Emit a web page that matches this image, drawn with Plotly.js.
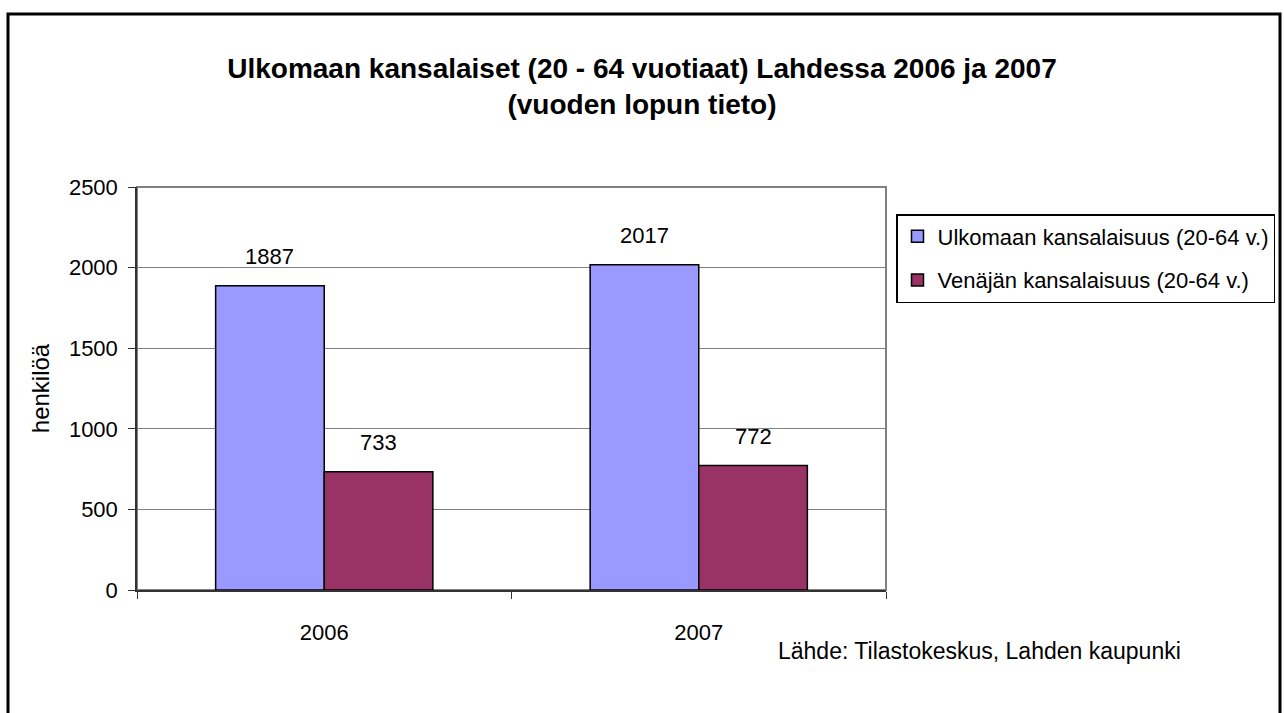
<!DOCTYPE html>
<html>
<head>
<meta charset="utf-8">
<script src="https://cdn.plot.ly/plotly-3.0.1.min.js"></script>
<style>
html,body{margin:0;padding:0;background:#fff;}
#chart{width:1284px;height:713px;}
</style>
</head>
<body>
<div id="chart"></div>
<script>
const years = ["2006", "2007"];
const seriesNames = ["Ulkomaan kansalaisuus (20-64 v.)", "Venäjän kansalaisuus (20-64 v.)"];
const foreignValues = [1887, 2017];
const russianValues = [733, 772];
const colors = ["#9999FF", "#993366"];
const titleText = "<b>Ulkomaan kansalaiset (20 - 64 vuotiaat) Lahdessa 2006 ja 2007<br>(vuoden lopun tieto)</b>";
const yTitle = "henkilöä";
const sourceText = "Lähde: Tilastokeskus, Lahden kaupunki";

const font = "Liberation Sans, Arial, sans-serif";
const allSeries = [foreignValues, russianValues];
const bargap = 0.42;
const barW = (1 - bargap) / allSeries.length;

const traces = allSeries.map((vals, i) => ({
  type: "bar",
  name: seriesNames[i],
  legendgroup: "g" + i,
  x: years,
  y: vals,
  hoverinfo: "x+y+name",
  marker: {color: colors[i], line: {color: "#000", width: 1.5}}
}));

const L = 137, R = 886, T = 187, B = 590;
const W = 1284, H = 713;
const pw = R - L, ph = B - T;
const px = v => (v - L) / pw;
const py = v => (B - v) / ph;

const valueLabels = [];
allSeries.forEach((vals, i) => {
  vals.forEach((v, j) => {
    valueLabels.push({
      text: String(v), xref: "x", yref: "y",
      x: j - (1 - bargap) / 2 + barW * (i + 0.5), y: v,
      xanchor: "center", yanchor: "middle", yshift: 29,
      showarrow: false, font: {family: font, size: 22, color: "#000"}
    });
  });
});

const layout = {
  width: W, height: H,
  margin: {l: L, r: W - R, t: T, b: H - B, pad: 0, autoexpand: false},
  paper_bgcolor: "#fff",
  plot_bgcolor: "#fff",
  font: {family: font, size: 22, color: "#000"},
  title: {text: titleText, font: {family: font, size: 28, color: "#000"}, x: 0.5, xanchor: "center", xref: "container", y: 1 - 78 / H, yanchor: "middle", yref: "container"},
  barmode: "group",
  bargap: bargap,
  bargroupgap: 0,
  showlegend: true,
  legend: {
    x: px(896), xanchor: "left", y: py(214), yanchor: "top",
    bordercolor: "#000", borderwidth: 1.5, bgcolor: "#fff",
    font: {family: font, size: 22, color: "#000"},
    tracegroupgap: 12
  },
  xaxis: {
    type: "category",
    showgrid: false,
    tickson: "boundaries",
    ticks: "outside", ticklen: 7, tickcolor: "#333", tickwidth: 1,
    showline: true, linecolor: "#333", linewidth: 1.5,
    tickfont: {family: font, size: 22, color: "#000"},
    ticklabelstandoff: 22,
    zeroline: false
  },
  yaxis: {
    range: [0, 2500], dtick: 500,
    showgrid: true, gridcolor: "#808080", gridwidth: 1,
    ticks: "outside", ticklen: 7, tickcolor: "#333", tickwidth: 1,
    showline: true, linecolor: "#333", linewidth: 1.5,
    tickfont: {family: font, size: 22, color: "#000"},
    ticklabelstandoff: 6,
    title: {text: yTitle, font: {family: font, size: 24, color: "#000"}, standoff: 12},
    zeroline: false
  },
  shapes: [
    {type: "rect", xref: "paper", yref: "paper", x0: 0, x1: 1, y0: 0, y1: 1, line: {color: "#808080", width: 2}, fillcolor: "rgba(0,0,0,0)", layer: "below"},
    {type: "rect", xref: "paper", yref: "paper", x0: px(8), x1: px(1280), y0: py(725), y1: py(14), line: {color: "#000", width: 3}, fillcolor: "rgba(0,0,0,0)"}
  ],
  annotations: valueLabels.concat([
    {text: sourceText, xref: "paper", yref: "paper", x: px(776), y: py(651), xanchor: "left", yanchor: "middle", showarrow: false, font: {family: font, size: 23, color: "#000"}}
  ])
};

Plotly.newPlot("chart", traces, layout, {displayModeBar: false, responsive: false});
</script>
</body>
</html>
